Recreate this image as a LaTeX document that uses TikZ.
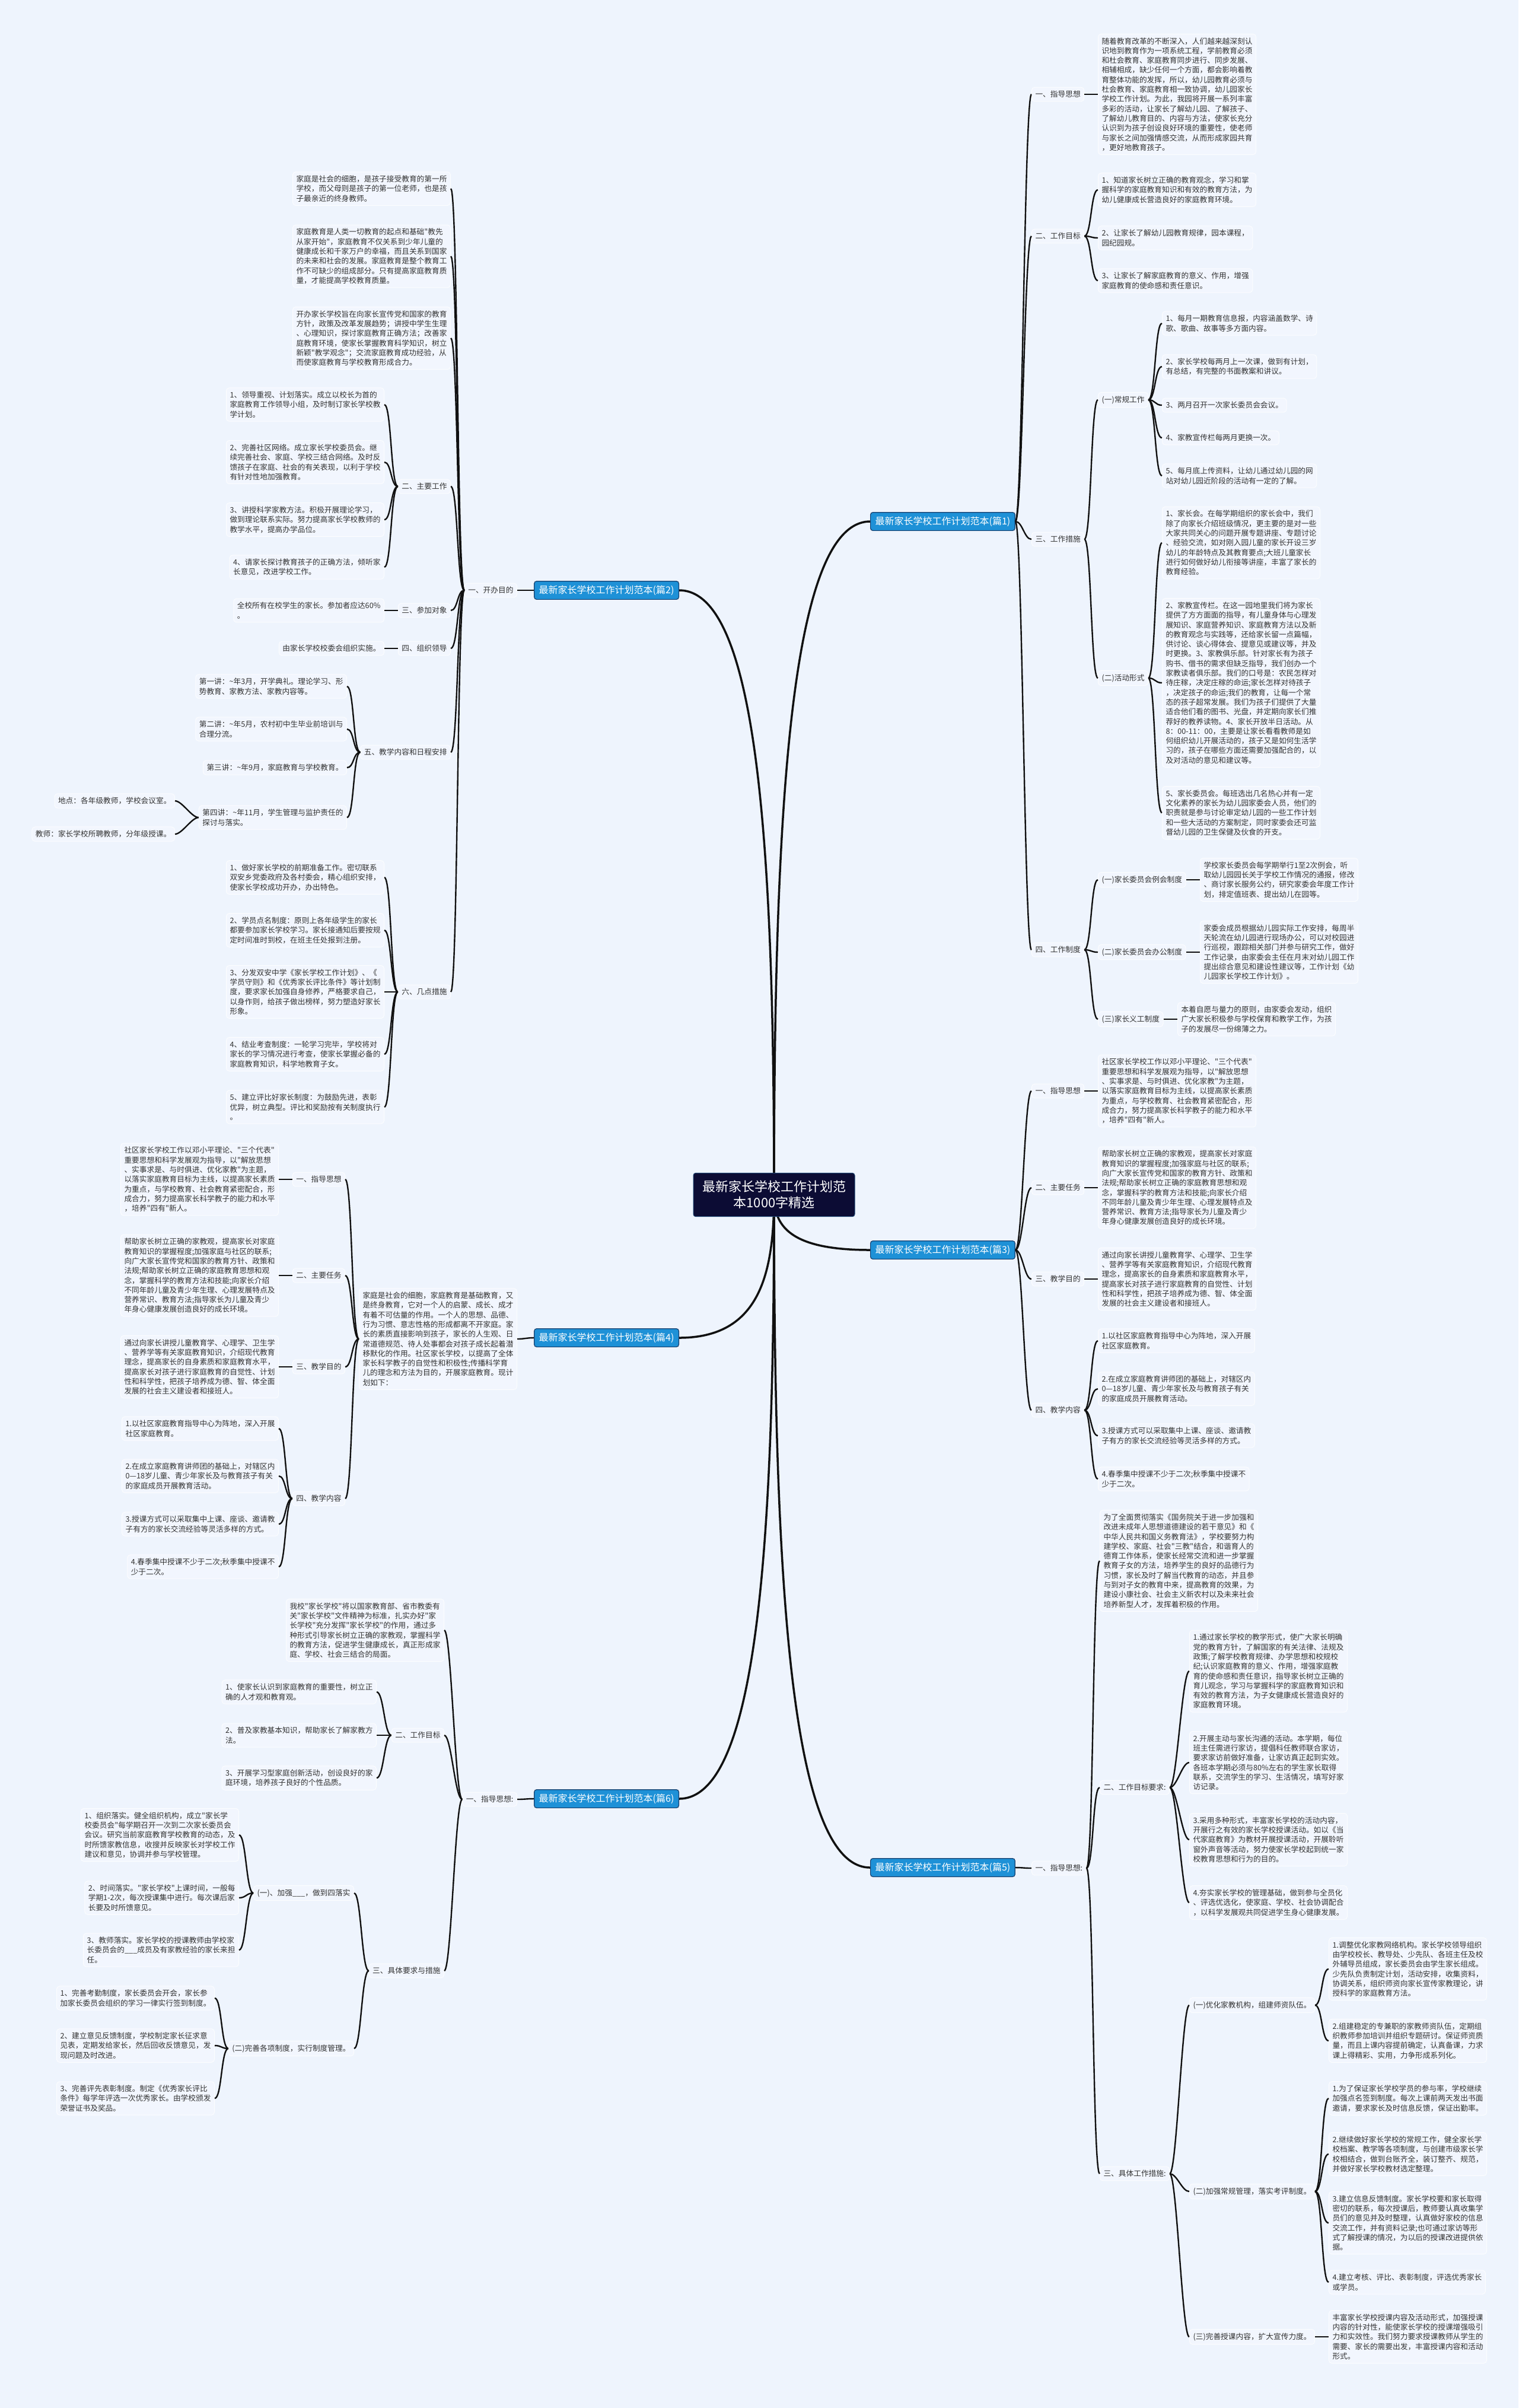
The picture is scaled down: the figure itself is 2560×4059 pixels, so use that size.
\documentclass[tikz,border=0pt]{standalone}
\usepackage{fontspec}
\newfontfamily\cjk{Noto Sans CJK SC}
\usetikzlibrary{backgrounds}
\definecolor{bgc}{RGB}{238,244,253}
\definecolor{boxc}{RGB}{242,246,254}
\definecolor{boxd}{RGB}{252,253,255}
\definecolor{txt}{RGB}{51,51,51}
\definecolor{lone}{RGB}{30,145,215}
\definecolor{loned}{RGB}{24,64,110}
\definecolor{rootc}{RGB}{12,12,52}
\definecolor{linec}{RGB}{17,17,17}
\tikzset{
 tb/.style={draw=boxd, fill=boxc, line width=1pt, rounded corners=5pt, inner xsep=6pt, inner ysep=6pt, align=left, text=txt, font=\cjk\fontsize{12.7pt}{16.3pt}\selectfont},
 tbw/.style={tb, anchor=west},
 tbe/.style={tb, anchor=east},
 lvone/.style={draw=loned, fill=lone, line width=1.2pt, rounded corners=4pt, text=white, inner xsep=8pt, inner ysep=7pt, font=\cjk\fontsize{16pt}{20pt}\selectfont},
 rootbox/.style={draw=loned, fill=rootc, line width=1pt, rounded corners=4pt, text=white, align=center, inner xsep=15pt, inner ysep=13pt, font=\cjk\fontsize{22pt}{27pt}\selectfont},
 cr/.style={draw=linec, line width=2.4pt},
 crm/.style={draw=linec, line width=3.5pt},
}
\newcommand\myrc[2]{\draw[cr] (#1.east) .. controls +(12,0) and +(-12,0) .. (#2.west);}
\newcommand\mylc[2]{\draw[cr] (#1.west) .. controls +(-12,0) and +(12,0) .. (#2.east);}
\begin{document}
\begin{tikzpicture}[x=1pt,y=-1pt]
\useasboundingbox (0,0) rectangle (2560,4059);
\node[rootbox] (root) at (1305,2014) {最新家长学校工作计划范\\本1000字精选};

% ---------- 篇1 ----------
\node[lvone, anchor=west] (A) at (1467,879) {最新家长学校工作计划范本(篇1)};
\node[tbw] (A1) at (1739,159) {一、指导思想};
\node[tbw] (A1t) at (1851,159) {随着教育改革的不断深入，人们越来越深刻认\\识地到教育作为一项系统工程，学前教育必须\\和杜会教育、家庭教育同步进行、同步发展、\\相辅相成，缺少任何一个方面，都会影响着教\\育整体功能的发挥，所以，幼儿园教育必须与\\杜会教育、家庭教育相一致协调，幼儿园家长\\学校工作计划。为此，我园将开展一系列丰富\\多彩的活动，让家长了解幼儿园、了解孩子、\\了解幼儿教育目的、内容与方法，使家长充分\\认识到为孩子创设良好环境的重要性，使老师\\与家长之间加强情感交流，从而形成家园共育\\，更好地教育孩子。};
\node[tbw] (A2) at (1739,398) {二、工作目标};
\node[tbw] (A2a) at (1851,320) {1、知道家长树立正确的教育观念，学习和掌\\握科学的家庭教育知识和有效的教育方法，为\\幼儿健康成长营造良好的家庭教育环境。};
\node[tbw] (A2b) at (1851,401) {2、让家长了解幼儿园教育规律，园本课程，\\园纪园规。};
\node[tbw] (A2c) at (1851,473) {3、让家长了解家庭教育的意义、作用，增强\\家庭教育的使命感和责任意识。};
\node[tbw] (A3) at (1739,909) {三、工作措施};
\node[tbw] (A31) at (1851,674) {(一)常规工作};
\node[tbw] (A31a) at (1959,545) {1、每月一期教育信息报，内容涵盖数学、诗\\歌、歌曲、故事等多方面内容。};
\node[tbw] (A31b) at (1959,618) {2、家长学校每两月上一次课，做到有计划，\\有总结，有完整的书面教案和讲议。};
\node[tbw] (A31c) at (1959,683) {3、两月召开一次家长委员会会议。};
\node[tbw] (A31d) at (1959,738) {4、家教宣传栏每两月更换一次。};
\node[tbw] (A31e) at (1959,802) {5、每月底上传资料，让幼儿通过幼儿园的网\\站对幼儿园近阶段的活动有一定的了解。};
\node[tbw] (A32) at (1851,1143) {(二)活动形式};
\node[tbw] (A32a) at (1959,915) {1、家长会。在每学期组织的家长会中，我们\\除了向家长介绍班级情况，更主要的是对一些\\大家共同关心的问题开展专题讲座、专题讨论\\、经验交流，如对刚入园儿童的家长开设三岁\\幼儿的年龄特点及其教育要点;大班儿童家长\\进行如何做好幼儿衔接等讲座，丰富了家长的\\教育经验。};
\node[tbw] (A32b) at (1959,1151) {2、家教宣传栏。在这一园地里我们将为家长\\提供了方方面面的指导，有儿童身体与心理发\\展知识、家庭营养知识、家庭教育方法以及新\\的教育观念与实践等，还给家长留一点篇幅，\\供讨论、谈心得体会、提意见或建议等，并及\\时更换。3、家教俱乐部。针对家长有为孩子\\购书、借书的需求但缺乏指导，我们创办一个\\家教读者俱乐部。我们的口号是：农民怎样对\\待庄稼，决定庄稼的命运;家长怎样对待孩子\\，决定孩子的命运;我们的教育，让每一个常\\态的孩子超常发展。我们为孩子们提供了大量\\适合他们看的图书、光盘，并定期向家长们推\\荐好的教养读物。4、家长开放半日活动。从\\8：00-11：00，主要是让家长看看教师是如\\何组织幼儿开展活动的，孩子又是如何生活学\\习的，孩子在哪些方面还需要加强配合的，以\\及对活动的意见和建议等。};
\node[tbw] (A32c) at (1959,1370) {5、家长委员会。每班选出几名热心并有一定\\文化素养的家长为幼儿园家委会人员，他们的\\职责就是参与讨论审定幼儿园的一些工作计划\\和一些大活动的方案制定，同时家委会还可监\\督幼儿园的卫生保健及伙食的开支。};
\node[tbw] (A4) at (1739,1601) {四、工作制度};
\node[tbw] (A41) at (1851,1483) {(一)家长委员会例会制度};
\node[tbw] (A41t) at (2023,1483) {学校家长委员会每学期举行1至2次例会，听\\取幼儿园园长关于学校工作情况的通报，修改\\、商讨家长服务公约，研究家委会年度工作计\\划，排定值班表、提出幼儿在园等。};
\node[tbw] (A42) at (1851,1605) {(二)家长委员会办公制度};
\node[tbw] (A42t) at (2023,1605) {家委会成员根据幼儿园实际工作安排，每周半\\天轮流在幼儿园进行现场办公，可以对校园进\\行巡视，跟踪相关部门并参与研究工作，做好\\工作记录，由家委会主任在月末对幼儿园工作\\提出综合意见和建设性建议等，工作计划《幼\\儿园家长学校工作计划》。};
\node[tbw] (A43) at (1851,1718) {(三)家长义工制度};
\node[tbw] (A43t) at (1985,1718) {本着自愿与量力的原则，由家委会发动，组织\\广大家长积极参与学校保育和教学工作，为孩\\子的发展尽一份绵薄之力。};

% ---------- 篇3 ----------
\node[lvone, anchor=west] (B) at (1467,2107) {最新家长学校工作计划范本(篇3)};
\node[tbw] (B1) at (1739,1839) {一、指导思想};
\node[tbw] (B1t) at (1851,1839) {社区家长学校工作以邓小平理论、"三个代表"\\重要思想和科学发展观为指导，以"解放思想\\、实事求是、与时俱进、优化家教"为主题，\\以落实家庭教育目标为主线，以提高家长素质\\为重点，与学校教育、社会教育紧密配合，形\\成合力，努力提高家长科学教子的能力和水平\\，培养"四有"新人。};
\node[tbw] (B2) at (1739,2002) {二、主要任务};
\node[tbw] (B2t) at (1851,2002) {帮助家长树立正确的家教观，提高家长对家庭\\教育知识的掌握程度;加强家庭与社区的联系;\\向广大家长宣传党和国家的教育方针、政策和\\法规;帮助家长树立正确的家庭教育思想和观\\念，掌握科学的教育方法和技能;向家长介绍\\不同年龄儿童及青少年生理、心理发展特点及\\营养常识、教育方法;指导家长为儿童及青少\\年身心健康发展创造良好的成长环境。};
\node[tbw] (B3) at (1739,2156) {三、教学目的};
\node[tbw] (B3t) at (1851,2156) {通过向家长讲授儿童教育学、心理学、卫生学\\、营养学等有关家庭教育知识，介绍现代教育\\理念，提高家长的自身素质和家庭教育水平，\\提高家长对孩子进行家庭教育的自觉性、计划\\性和科学性，把孩子培养成为德、智、体全面\\发展的社会主义建设者和接班人。};
\node[tbw] (B4) at (1739,2377) {四、教学内容};
\node[tbw] (B4a) at (1851,2260) {1.以社区家庭教育指导中心为阵地，深入开展\\社区家庭教育。};
\node[tbw] (B4b) at (1851,2341) {2.在成立家庭教育讲师团的基础上，对辖区内\\0—18岁儿童、青少年家长及与教育孩子有关\\的家庭成员开展教育活动。};
\node[tbw] (B4c) at (1851,2420) {3.授课方式可以采取集中上课、座谈、邀请教\\子有方的家长交流经验等灵活多样的方式。};
\node[tbw] (B4d) at (1851,2493) {4.春季集中授课不少于二次;秋季集中授课不\\少于二次。};

% ---------- 篇5 ----------
\node[lvone, anchor=west] (C) at (1467,3148) {最新家长学校工作计划范本(篇5)};
\node[tbw] (C1) at (1739,3149) {一、指导思想:};
\node[tbw] (C1t) at (1854,2631) {为了全面贯彻落实《国务院关于进一步加强和\\改进未成年人思想道德建设的若干意见》和《\\中华人民共和国义务教育法》，学校要努力构\\建学校、家庭、社会"三教"结合，和谐育人的\\德育工作体系，使家长经常交流和进一步掌握\\教育子女的方法，培养学生的良好的品德行为\\习惯，家长及时了解当代教育的动态，并且参\\与到对子女的教育中来，提高教育的效果，为\\建设小康社会、社会主义新农村以及未来社会\\培养新型人才，发挥着积极的作用。};
\node[tbw] (C2) at (1854,3013) {二、工作目标要求:};
\node[tbw] (C2a) at (2005,2817) {1.通过家长学校的教学形式，使广大家长明确\\党的教育方针，了解国家的有关法律、法规及\\政策;了解学校教育规律、办学思想和校规校\\纪;认识家庭教育的意义、作用，增强家庭教\\育的使命感和责任意识，指导家长树立正确的\\育儿观念，学习与掌握科学的家庭教育知识和\\有效的教育方法，为子女健康成长营造良好的\\家庭教育环境。};
\node[tbw] (C2b) at (2005,2971) {2.开展主动与家长沟通的活动。本学期，每位\\班主任需进行家访，提倡科任教师联合家访，\\要求家访前做好准备，让家访真正起到实效。\\各班本学期必须与80\%左右的学生家长取得\\联系，交流学生的学习、生活情况，填写好家\\访记录。};
\node[tbw] (C2c) at (2005,3101) {3.采用多种形式，丰富家长学校的活动内容，\\开展行之有效的家长学校授课活动。如以《当\\代家庭教育》为教材开展授课活动，开展聆听\\窗外声音等活动，努力使家长学校起到统一家\\校教育思想和行为的目的。};
\node[tbw] (C2d) at (2005,3207) {4.夯实家长学校的管理基础，做到参与全员化\\、评选优选化，使家庭、学校、社会协调配合\\，以科学发展观共同促进学生身心健康发展。};
\node[tbw] (C3) at (1854,3664) {三、具体工作措施:};
\node[tbw] (C31) at (2005,3380) {(一)优化家教机构，组建师资队伍。};
\node[tbw] (C31a) at (2240,3319) {1.调整优化家教网络机构。家长学校领导组织\\由学校校长、教导处、少先队、各班主任及校\\外辅导员组成，家长委员会由学生家长组成。\\少先队负责制定计划，活动安排，收集资料，\\协调关系，组织师资向家长宣传家教理论，讲\\授科学的家庭教育方法。};
\node[tbw] (C31b) at (2240,3440) {2.组建稳定的专兼职的家教师资队伍，定期组\\织教师参加培训并组织专题研讨。保证师资质\\量，而且上课内容提前确定，认真备课，力求\\课上得精彩、实用，力争形成系列化。};
\node[tbw] (C32) at (2005,3694) {(二)加强常规管理，落实考评制度。};
\node[tbw] (C32a) at (2240,3537) {1.为了保证家长学校学员的参与率，学校继续\\加强点名签到制度。每次上课前两天发出书面\\邀请，要求家长及时信息反馈，保证出勤率。};
\node[tbw] (C32b) at (2240,3631) {2.继续做好家长学校的常规工作，健全家长学\\校档案、教学等各项制度，与创建市级家长学\\校相结合，做到台账齐全，装订整齐、规范，\\并做好家长学校教材选定整理。};
\node[tbw] (C32c) at (2240,3747) {3.建立信息反馈制度。家长学校要和家长取得\\密切的联系，每次授课后，教师要认真收集学\\员们的意见并及时整理，认真做好家校的信息\\交流工作，并有资料记录;也可通过家访等形\\式了解授课的情况，为以后的授课改进提供依\\据。};
\node[tbw] (C32d) at (2240,3847) {4.建立考核、评比、表彰制度，评选优秀家长\\或学员。};
\node[tbw] (C33) at (2005,3939) {(三)完善授课内容，扩大宣传力度。};
\node[tbw] (C33t) at (2240,3939) {丰富家长学校授课内容及活动形式，加强授课\\内容的针对性，能使家长学校的授课增强吸引\\力和实效性。我们努力要求授课教师从学生的\\需要、家长的需要出发，丰富授课内容和活动\\形式。};

% ---------- 篇2 ----------
\node[lvone, anchor=east] (D) at (1145,995) {最新家长学校工作计划范本(篇2)};
\node[tbe] (D1) at (872,995) {一、开办目的};
\node[tbe] (D1a) at (760,318) {家庭是社会的细胞，是孩子接受教育的第一所\\学校，而父母则是孩子的第一位老师，也是孩\\子最亲近的终身教师。};
\node[tbe] (D1b) at (760,432) {家庭教育是人类一切教育的起点和基础"教先\\从家开始"，家庭教育不仅关系到少年儿童的\\健康成长和千家万户的幸福，而且关系到国家\\的未来和社会的发展。家庭教育是整个教育工\\作不可缺少的组成部分。只有提高家庭教育质\\量，才能提高学校教育质量。};
\node[tbe] (D1c) at (760,570) {开办家长学校旨在向家长宣传党和国家的教育\\方针，政策及改革发展趋势；讲授中学生生理\\、心理知识，探讨家庭教育正确方法；改善家\\庭教育环境，使家长掌握教育科学知识，树立\\新颖"教学观念"；交流家庭教育成功经验，从\\而使家庭教育与学校教育形成合力。};
\node[tbe] (D2) at (760,820) {二、主要工作};
\node[tbe] (D2a) at (648,682) {1、领导重视、计划落实。成立以校长为首的\\家庭教育工作领导小组，及时制订家长学校教\\学计划。};
\node[tbe] (D2b) at (648,779) {2、完善社区网络。成立家长学校委员会。继\\续完善社会、家庭、学校三结合网络。及时反\\馈孩子在家庭、社会的有关表现，以利于学校\\有针对性地加强教育。};
\node[tbe] (D2c) at (648,876) {3、讲授科学家教方法。积极开展理论学习，\\做到理论联系实际。努力提高家长学校教师的\\教学水平，提高办学品位。};
\node[tbe] (D2d) at (648,956) {4、请家长探讨教育孩子的正确方法，倾听家\\长意见，改进学校工作。};
\node[tbe] (D3) at (760,1029) {三、参加对象};
\node[tbe] (D3t) at (648,1029) {全校所有在校学生的家长。参加者应达60\%\\。};
\node[tbe] (D4) at (760,1093) {四、组织领导};
\node[tbe] (D4t) at (648,1093) {由家长学校校委会组织实施。};
\node[tbe] (D5) at (760,1268) {五、教学内容和日程安排};
\node[tbe] (D5a) at (585,1157) {第一讲：\textasciitilde 年3月，开学典礼。理论学习、形\\势教育、家教方法、家教内容等。};
\node[tbe] (D5b) at (585,1229) {第二讲：\textasciitilde 年5月，农村初中生毕业前培训与\\合理分流。};
\node[tbe] (D5c) at (585,1294) {第三讲：\textasciitilde 年9月，家庭教育与学校教育。};
\node[tbe] (D5d) at (585,1378) {第四讲：\textasciitilde 年11月，学生管理与监护责任的\\探讨与落实。};
\node[tbe] (D5d1) at (295,1350) {地点：各年级教师，学校会议室。};
\node[tbe] (D5d2) at (295,1406) {教师：家长学校所聘教师，分年级授课。};
\node[tbe] (D6) at (760,1672) {六、几点措施};
\node[tbe] (D6a) at (648,1479) {1、做好家长学校的前期准备工作。密切联系\\双安乡党委政府及各村委会，精心组织安排，\\使家长学校成功开办，办出特色。};
\node[tbe] (D6b) at (648,1568) {2、学员点名制度：原则上各年级学生的家长\\都要参加家长学校学习。家长接通知后要按规\\定时间准时到校，在班主任处报到注册。};
\node[tbe] (D6c) at (648,1672) {3、分发双安中学《家长学校工作计划》、《\\学员守则》和《优秀家长评比条件》等计划制\\度，要求家长加强自身修养，严格要求自己，\\以身作则，给孩子做出榜样，努力塑造好家长\\形象。};
\node[tbe] (D6d) at (648,1777) {4、结业考查制度：一轮学习完毕，学校将对\\家长的学习情况进行考查，使家长掌握必备的\\家庭教育知识，科学地教育子女。};
\node[tbe] (D6e) at (648,1866) {5、建立评比好家长制度：为鼓励先进，表彰\\优异，树立典型。评比和奖励按有关制度执行\\。};

% ---------- 篇4 ----------
\node[lvone, anchor=east] (E) at (1145,2255) {最新家长学校工作计划范本(篇4)};
\node[tbe] (E1) at (872,2257) {家庭是社会的细胞，家庭教育是基础教育，又\\是终身教育，它对一个人的启蒙、成长、成才\\有着不可估量的作用。一个人的思想、品德、\\行为习惯、意志性格的形成都离不开家庭。家\\长的素质直接影响到孩子，家长的人生观、日\\常道德规范、待人处事都会对孩子成长起着潜\\移默化的作用。社区家长学校，以提高了全体\\家长科学教子的自觉性和积极性;传播科学育\\儿的理念和方法为目的，开展家庭教育。现计\\划如下：};
\node[tbe] (E2) at (582,1988) {一、指导思想};
\node[tbe] (E2t) at (470,1988) {社区家长学校工作以邓小平理论、"三个代表"\\重要思想和科学发展观为指导，以"解放思想\\、实事求是、与时俱进、优化家教"为主题，\\以落实家庭教育目标为主线，以提高家长素质\\为重点，与学校教育、社会教育紧密配合，形\\成合力，努力提高家长科学教子的能力和水平\\，培养"四有"新人。};
\node[tbe] (E3) at (582,2150) {二、主要任务};
\node[tbe] (E3t) at (470,2150) {帮助家长树立正确的家教观，提高家长对家庭\\教育知识的掌握程度;加强家庭与社区的联系;\\向广大家长宣传党和国家的教育方针、政策和\\法规;帮助家长树立正确的家庭教育思想和观\\念，掌握科学的教育方法和技能;向家长介绍\\不同年龄儿童及青少年生理、心理发展特点及\\营养常识、教育方法;指导家长为儿童及青少\\年身心健康发展创造良好的成长环境。};
\node[tbe] (E4) at (582,2304) {三、教学目的};
\node[tbe] (E4t) at (470,2304) {通过向家长讲授儿童教育学、心理学、卫生学\\、营养学等有关家庭教育知识，介绍现代教育\\理念，提高家长的自身素质和家庭教育水平，\\提高家长对孩子进行家庭教育的自觉性、计划\\性和科学性，把孩子培养成为德、智、体全面\\发展的社会主义建设者和接班人。};
\node[tbe] (E5) at (582,2526) {四、教学内容};
\node[tbe] (E5a) at (470,2408) {1.以社区家庭教育指导中心为阵地，深入开展\\社区家庭教育。};
\node[tbe] (E5b) at (470,2488) {2.在成立家庭教育讲师团的基础上，对辖区内\\0—18岁儿童、青少年家长及与教育孩子有关\\的家庭成员开展教育活动。};
\node[tbe] (E5c) at (470,2569) {3.授课方式可以采取集中上课、座谈、邀请教\\子有方的家长交流经验等灵活多样的方式。};
\node[tbe] (E5d) at (470,2641) {4.春季集中授课不少于二次;秋季集中授课不\\少于二次。};

% ---------- 篇6 ----------
\node[lvone, anchor=east] (F) at (1145,3032) {最新家长学校工作计划范本(篇6)};
\node[tbe] (F1) at (872,3033) {一、指导思想:};
\node[tbe] (F1t) at (749,2748) {我校"家长学校"将以国家教育部、省市教委有\\关"家长学校"文件精神为标准，扎实办好"家\\长学校"充分发挥"家长学校"的作用，通过多\\种形式引导家长树立正确的家教观，掌握科学\\的教育方法，促进学生健康成长，真正形成家\\庭、学校、社会三结合的局面。};
\node[tbe] (F2) at (749,2925) {二、工作目标};
\node[tbe] (F2a) at (635,2852) {1、使家长认识到家庭教育的重要性，树立正\\确的人才观和教育观。};
\node[tbe] (F2b) at (635,2925) {2、普及家教基本知识，帮助家长了解家教方\\法。};
\node[tbe] (F2c) at (635,2997) {3、开展学习型家庭创新活动，创设良好的家\\庭环境，培养孩子良好的个性品质。};
\node[tbe] (F3) at (749,3322) {三、具体要求与措施};
\node[tbe] (F31) at (597,3191) {(一)、加强\_\_\_，做到四落实};
\node[tbe] (F31a) at (403,3093) {1、组织落实。健全组织机构，成立"家长学\\校委员会"每学期召开一次到二次家长委员会\\会议。研究当前家庭教育学校教育的动态，及\\时所馈家教信息，收搜并反映家长对学校工作\\建议和意见，协调并参与学校管理。};
\node[tbe] (F31b) at (403,3199) {2、时间落实。"家长学校"上课时间，一般每\\学期1-2次，每次授课集中进行。每次课后家\\长要及时所馈意见。};
\node[tbe] (F31c) at (403,3287) {3、教师落实。家长学校的授课教师由学校家\\长委员会的\_\_\_成员及有家教经验的家长来担\\任。};
\node[tbe] (F32) at (597,3453) {(二)完善各项制度，实行制度管理。};
\node[tbe] (F32a) at (362,3368) {1、完善考勤制度，家长委员会开会，家长参\\加家长委员会组织的学习一律实行签到制度。};
\node[tbe] (F32b) at (362,3448) {2、建立意见反馈制度，学校制定家长征求意\\见表，定期发给家长，然后回收反馈意见，发\\现问题及时改进。};
\node[tbe] (F32c) at (362,3537) {3、完善评先表彰制度。制定《优秀家长评比\\条件》每学年评选一次优秀家长。由学校颁发\\荣誉证书及奖品。};

% ---------- connectors ----------
\foreach \c in {A1,A2,A3,A4} {\myrc{A}{\c}}
\myrc{A1}{A1t}
\foreach \c in {A2a,A2b,A2c} {\myrc{A2}{\c}}
\foreach \c in {A31,A32} {\myrc{A3}{\c}}
\foreach \c in {A31a,A31b,A31c,A31d,A31e} {\myrc{A31}{\c}}
\foreach \c in {A32a,A32b,A32c} {\myrc{A32}{\c}}
\foreach \c in {A41,A42,A43} {\myrc{A4}{\c}}
\myrc{A41}{A41t} \myrc{A42}{A42t} \myrc{A43}{A43t}

\foreach \c in {B1,B2,B3,B4} {\myrc{B}{\c}}
\myrc{B1}{B1t} \myrc{B2}{B2t} \myrc{B3}{B3t}
\foreach \c in {B4a,B4b,B4c,B4d} {\myrc{B4}{\c}}

\myrc{C}{C1}
\foreach \c in {C1t,C2,C3} {\myrc{C1}{\c}}
\foreach \c in {C2a,C2b,C2c,C2d} {\myrc{C2}{\c}}
\foreach \c in {C31,C32,C33} {\myrc{C3}{\c}}
\foreach \c in {C31a,C31b} {\myrc{C31}{\c}}
\foreach \c in {C32a,C32b,C32c,C32d} {\myrc{C32}{\c}}
\myrc{C33}{C33t}

\mylc{D}{D1}
\foreach \c in {D1a,D1b,D1c,D2,D3,D4,D5,D6} {\mylc{D1}{\c}}
\foreach \c in {D2a,D2b,D2c,D2d} {\mylc{D2}{\c}}
\mylc{D3}{D3t} \mylc{D4}{D4t}
\foreach \c in {D5a,D5b,D5c,D5d} {\mylc{D5}{\c}}
\foreach \c in {D5d1,D5d2} {\mylc{D5d}{\c}}
\foreach \c in {D6a,D6b,D6c,D6d,D6e} {\mylc{D6}{\c}}

\mylc{E}{E1}
\foreach \c in {E2,E3,E4,E5} {\mylc{E1}{\c}}
\mylc{E2}{E2t} \mylc{E3}{E3t} \mylc{E4}{E4t}
\foreach \c in {E5a,E5b,E5c,E5d} {\mylc{E5}{\c}}

\mylc{F}{F1}
\foreach \c in {F1t,F2,F3} {\mylc{F1}{\c}}
\foreach \c in {F2a,F2b,F2c} {\mylc{F2}{\c}}
\foreach \c in {F31,F32} {\mylc{F3}{\c}}
\foreach \c in {F31a,F31b,F31c} {\mylc{F31}{\c}}
\foreach \c in {F32a,F32b,F32c} {\mylc{F32}{\c}}

\begin{pgfonlayer}{background}
\fill[bgc] (0,0) rectangle (2560,4059);
\draw[crm] (root.center) .. controls (1305,1390) and (1329,879) .. (A.west);
\draw[crm] (root.center) .. controls (1305,2065) and (1329,2107) .. (B.west);
\draw[crm] (root.center) .. controls (1305,2638) and (1329,3148) .. (C.west);
\draw[crm] (root.center) .. controls (1305,1454) and (1281,995) .. (D.east);
\draw[crm] (root.center) .. controls (1305,2147) and (1281,2255) .. (E.east);
\draw[crm] (root.center) .. controls (1305,2574) and (1281,3032) .. (F.east);
\end{pgfonlayer}
\end{tikzpicture}
\end{document}
